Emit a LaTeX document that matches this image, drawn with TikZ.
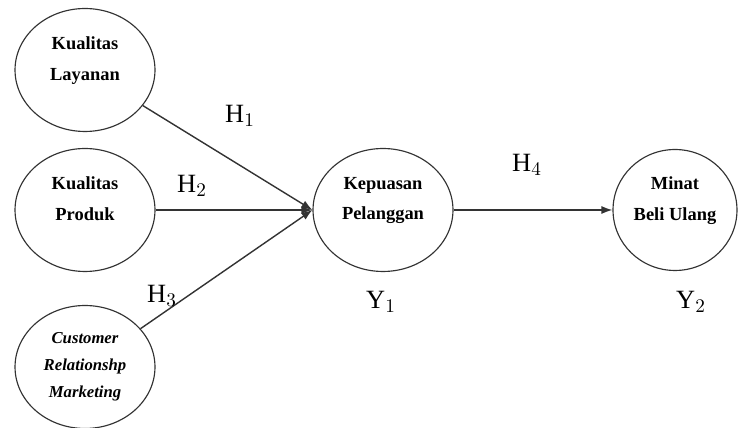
\documentclass[tikz,border=0pt]{standalone}
\usepackage{fontspec}
\setmainfont{Liberation Serif}
\usetikzlibrary{shapes.geometric,arrows.meta}
\definecolor{ink}{HTML}{333333}

\begin{document}
\begin{tikzpicture}[x=0.02cm,y=-0.02cm,
    latent/.style={ellipse, draw=ink, line width=0.65pt, minimum width=2.8cm,
      minimum height=2.46cm, inner sep=0pt, align=center},
    bold text/.style={font=\fontsize{10.5}{17.5}\selectfont\bfseries, text depth=13pt},
    path/.style={draw=ink, line width=0.8pt, -{Latex[length=2.2mm,width=1.6mm]}},
    hyp/.style={font=\fontsize{15}{18}\selectfont}]
        \useasboundingbox (0,0) rectangle (741,428);
        % Exogenous constructs
        \node[latent, bold text] (lay) at (85,70) {Kualitas\\Layanan};
        \node[latent, bold text] (prod) at (85,210) {Kualitas\\Produk};
        \node[latent, font=\fontsize{9.5}{15.5}\selectfont\itshape\bfseries]
          (crm) at (85,367) {Customer\\Relationshp\\Marketing};
        % Endogenous constructs
        \node[latent, bold text] (kep) at (383,210) {Kepuasan\\Pelanggan};
        \node[latent, bold text, minimum width=2.48cm, minimum height=2.42cm]
          (minat) at (675,210) {Minat\\Beli Ulang};
        % Paths
        \draw[path] (lay) -- (kep.west);
        \draw[path] (prod) -- (kep.west);
        \draw[path] (crm) -- (kep.west);
        \draw[path] (kep) -- (minat);
        % Hypotheses
        \node[hyp] (h1) at (240,116) {H$_1$};
        \node[hyp] (h2) at (192,186) {H$_2$};
        \node[hyp] (h3) at (162,296) {H$_3$};
        \node[hyp] (h4) at (527,165) {H$_4$};
        \node[hyp] (y1) at (381,302) {Y$_1$};
        \node[hyp] (y2) at (691,302) {Y$_2$};
\end{tikzpicture}
\end{document}
